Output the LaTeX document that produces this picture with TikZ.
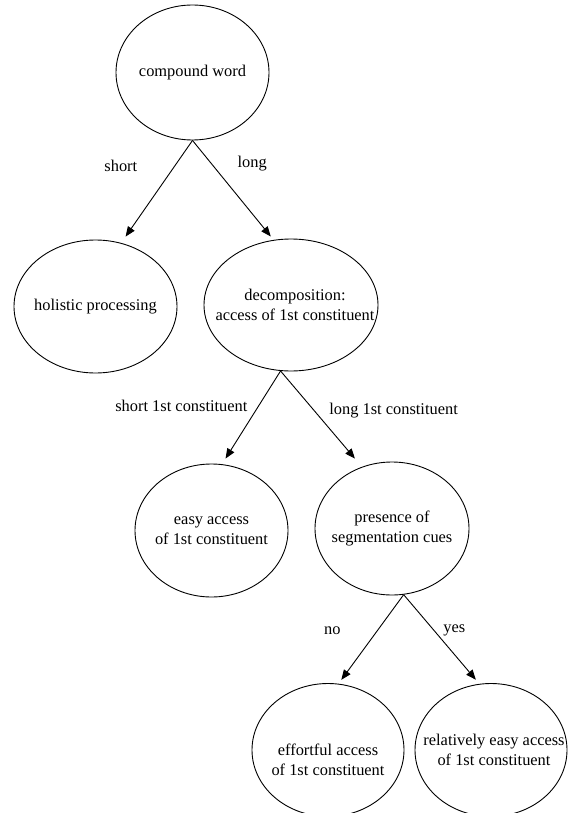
\documentclass[tikz,border=0pt]{standalone}
\usepackage{fontspec}
\setmainfont{Liberation Serif}
\usetikzlibrary{arrows.meta,shapes.geometric}

\begin{document}
\begin{tikzpicture}[x=1pt,y=-1pt,
  bubble/.style={draw,ellipse,line width=0.9pt,inner sep=0pt,minimum width=153pt,minimum height=133pt},
  txt/.style={align=center,inner sep=0pt,font=\fontsize{16.4}{19.5}\selectfont}]
  \useasboundingbox (0,0) rectangle (577,813);
  % the ellipses
  \node[bubble,minimum height=135pt] (word) at (192.5,72.5) {};
  \node[bubble,minimum width=163pt] (holistic) at (95.5,306.5) {};
  \node[bubble,minimum width=174pt,minimum height=132pt] (decomp) at (291,305) {};
  \node[bubble] (easy) at (211.5,530.5) {};
  \node[bubble,minimum width=154pt] (presence) at (392,528.5) {};
  \node[bubble,minimum width=152pt] (effort) at (328,750) {};
  \node[bubble,minimum width=152pt] (relative) at (491,750) {};
  % their texts
  \node[txt] (word-t) at (word) {compound word};
  \node[txt] (holistic-t) at (holistic) {holistic processing};
  \node[txt] (decomp-t) at ([xshift=4pt]decomp) {decomposition:\\access of 1st constituent};
  \node[txt] (easy-t) at (easy) {easy access\\of 1st constituent};
  \node[txt] (presence-t) at (presence) {presence of\\segmentation cues};
  \node[txt] (effort-t) at ([yshift=-10pt]effort) {effortful access\\of 1st constituent};
  \node[txt] (relative-t) at ([xshift=3pt]relative) {relatively easy access\\of 1st constituent};
  \path[-{Triangle[length=10pt,width=8pt]},line width=0.9pt]
    (word.south) edge[shorten >=7.7pt] node[txt,pos=.25,left=37pt] {short} (holistic.68)
    (word.south) edge[shorten >=4.4pt] node[txt,pos=.23,right=26pt] {long} (decomp.105)
    (decomp.-99) edge[shorten >=6.6pt] node[txt,pos=.37,left=11pt] {short 1st constituent} (easy.81)
    (decomp.-99) edge[shorten >=10.8pt] node[txt,pos=.41,right=15pt] {long 1st constituent} (presence.116)
    (presence.-80) edge[shorten >=4.8pt] node[txt,pos=.41,left=36pt] {no} (effort.81)
    (presence.-80) edge[shorten >=5.4pt] node[txt,pos=.40,right=9pt] {yes} (relative.100);
\end{tikzpicture}
\end{document}
